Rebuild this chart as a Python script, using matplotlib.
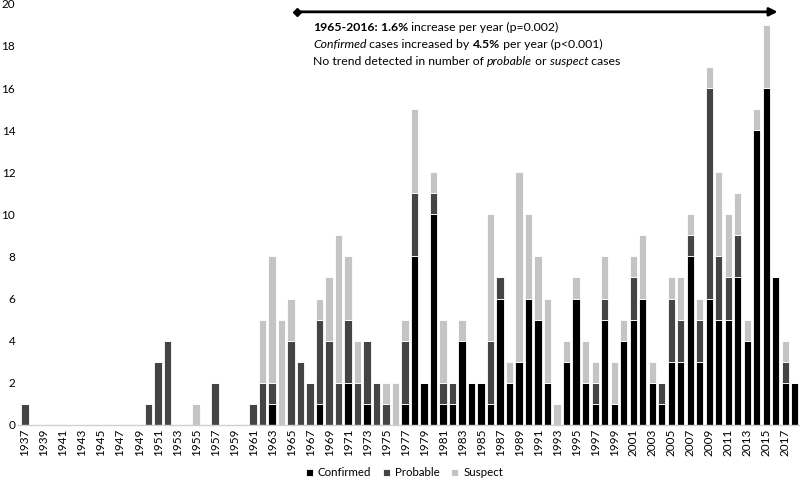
import numpy as np
import matplotlib
matplotlib.use("Agg")
import matplotlib.pyplot as plt

plt.rcParams['font.family'] = ['Lato', 'DejaVu Sans']

years = list(range(1937, 2019))

# case counts per year (1937 .. 2018)
confirmed = [0, 0, 0, 0, 0, 0, 0, 0, 0, 0, 0, 0, 0,
             0, 0, 0, 0, 0, 0, 0, 0, 0, 0, 0, 0,
             0, 1, 0, 0, 0, 0, 1, 0, 0, 2, 0, 1, 0, 0, 0,
             1, 8, 2, 10, 1, 1, 4, 2, 2, 1, 6, 2, 3, 6, 5, 2,
             0, 3, 6, 2, 1, 5, 1, 4, 5, 6, 2, 1,
             3, 3, 8, 3, 6, 5, 5, 7, 4, 14, 16, 7, 2, 2]
probable = [1, 0, 0, 0, 0, 0, 0, 0, 0, 0, 0, 0, 0,
            1, 3, 4, 0, 0, 0, 0, 2, 0, 0, 0, 1,
            2, 1, 0, 4, 3, 2, 4, 4, 2, 3, 2, 3, 2, 1, 0,
            3, 3, 0, 1, 1, 1, 0, 0, 0, 3, 1, 0, 0, 0, 0, 0,
            0, 0, 0, 0, 1, 1, 0, 0, 2, 0, 0, 1,
            3, 2, 1, 2, 10, 3, 2, 2, 0, 0, 0, 0, 1, 0]
suspect = [0, 0, 0, 0, 0, 0, 0, 0, 0, 0, 0, 0, 0,
           0, 0, 0, 0, 0, 1, 0, 0, 0, 0, 0, 0,
           3, 6, 5, 2, 0, 0, 1, 3, 7, 3, 2, 0, 0, 1, 2,
           1, 4, 0, 1, 3, 0, 1, 0, 0, 6, 0, 1, 9, 4, 3, 4,
           1, 1, 1, 2, 1, 2, 2, 1, 1, 3, 1, 0,
           1, 2, 1, 1, 1, 4, 3, 2, 1, 1, 3, 0, 1, 0]

c = np.array(confirmed)
p = np.array(probable)
s = np.array(suspect)

fig = plt.figure(figsize=(8, 4.8), dpi=100)
ax = fig.add_axes([0.0225, 0.115, 0.9775, 0.877])

w = 0.78
ax.bar(years, c, w, color='#000000', edgecolor='white', linewidth=0.6, label='Confirmed')
ax.bar(years, p, w, bottom=c, color='#444444', edgecolor='white', linewidth=0.6, label='Probable')
ax.bar(years, s, w, bottom=c + p, color='#c4c4c4', edgecolor='white', linewidth=0.6, label='Suspect')

ax.set_xlim(1936.26, 2018.55)
ax.set_ylim(0, 20)
ax.set_yticks(range(0, 21, 2))
ax.set_xticks(years[::2])
ax.set_xticklabels([str(y) for y in years[::2]], rotation=90, fontsize=8.5)
ax.tick_params(axis='both', length=0, labelsize=8.5, pad=3)
ax.tick_params(axis='y', pad=2)
for sp in ['top', 'right', 'left']:
    ax.spines[sp].set_visible(False)
ax.spines['bottom'].set_color('#d0d0d0')
ax.spines['bottom'].set_linewidth(1.0)

# trend period arrow
ax.annotate('', xy=(2016.2, 19.62), xytext=(1965.6, 19.62),
            arrowprops=dict(arrowstyle='-|>', color='black', lw=2, mutation_scale=12,
                            shrinkA=0, shrinkB=0))
ax.plot([1965.6], [19.62], marker='D', color='black', markersize=4, clip_on=False)

# annotation text with mixed bold / italic runs
lines = [
    [('1965-2016:', 'bold', 'normal'), (' 1.6%', 'bold', 'normal'),
     (' increase per year (p=0.002)', 'normal', 'normal')],
    [('Confirmed', 'normal', 'italic'), (' cases increased by ', 'normal', 'normal'),
     ('4.5%', 'bold', 'normal'), (' per year (p<0.001)', 'normal', 'normal')],
    [('No trend detected in number of ', 'normal', 'normal'), ('probable', 'normal', 'italic'),
     (' or ', 'normal', 'normal'), ('suspect', 'normal', 'italic'), (' cases', 'normal', 'normal')],
]
line_y = [18.6, 17.8, 17.0]
for parts, yy in zip(lines, line_y):
    prev = None
    for txt, wt, st in parts:
        if prev is None:
            prev = ax.text(1967.3, yy, txt, fontsize=8.8, fontweight=wt, fontstyle=st,
                           va='bottom', ha='left')
        else:
            prev = ax.annotate(txt, xy=(1, 0), xycoords=prev, fontsize=8.8,
                               fontweight=wt, fontstyle=st, va='bottom', ha='left')

ax.legend(loc='center', bbox_to_anchor=(0.494, -0.1145), ncol=3, frameon=False,
          fontsize=8.3, handlelength=0.6, handleheight=0.6, handletextpad=0.45,
          columnspacing=1.0, borderpad=0.1)

fig.savefig('out.png', dpi=100)
